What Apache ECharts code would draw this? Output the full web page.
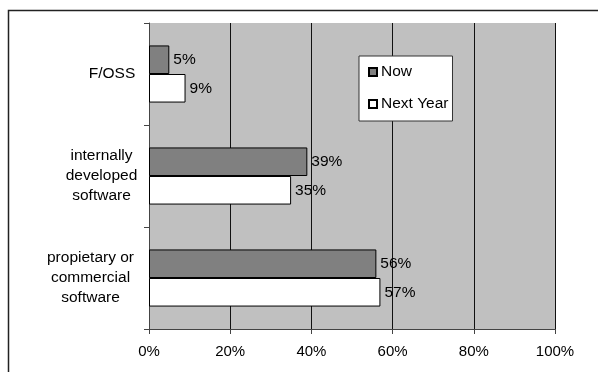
<!DOCTYPE html>
<html>
<head>
<meta charset="utf-8">
<style>
  html, body { margin: 0; padding: 0; background: #fff; }
  #chart { width: 598px; height: 372px; }
</style>
<script src="https://cdn.jsdelivr.net/npm/echarts@6/dist/echarts.min.js"></script>
</head>
<body>
<div id="chart"></div>
<script>
// Software types, listed top to bottom
const categories = ['F/OSS', 'internally developed software', 'propietary or commercial software'];
// Multi-line label text for each category and the rich style key it uses
const categoryLines = [['F/OSS'], ['internally', 'developed', 'software'], ['propietary or', 'commercial', 'software']];
const categoryStyles = ['f', 'i', 'p'];
// Share of respondents (%)
const nowValues = [5, 39, 56];
const nextYearValues = [9, 35, 57];
const seriesNames = ['Now', 'Next Year'];
const xTicks = [0, 20, 40, 60, 80, 100];

const font = '"Liberation Sans", Arial, sans-serif';

const chart = echarts.init(document.getElementById('chart'), null, { renderer: 'canvas' });

function line(width) {
  return { width: width, align: 'center', fontSize: 15.5, lineHeight: 20, color: '#000', fontFamily: font };
}

chart.setOption({
  animation: false,
  backgroundColor: '#fff',
  graphic: [{
    type: 'rect',
    shape: { x: 8.5, y: 10.5, width: 620, height: 420 },
    style: { fill: 'none', stroke: '#222', lineWidth: 1.5 },
    silent: true
  }],
  grid: {
    left: 149, top: 23, width: 406, height: 306,
    show: true, backgroundColor: '#c0c0c0', borderWidth: 0
  },
  legend: {
    orient: 'vertical',
    left: 359, top: 56,
    padding: [8, 4, 9, 9],
    backgroundColor: '#fff',
    borderColor: '#333', borderWidth: 1,
    itemWidth: 8, itemHeight: 8, itemGap: 16,
    icon: 'rect',
    textStyle: { fontSize: 15.5, fontFamily: font, color: '#000', padding: [0, 0, 0, -1] },
    data: seriesNames
  },
  xAxis: {
    type: 'value',
    min: 0, max: 100, interval: 20,
    axisLine: { show: true, lineStyle: { color: '#444', width: 1 } },
    axisTick: { show: true, length: 5, lineStyle: { color: '#444' } },
    splitLine: { show: true, lineStyle: { color: '#111', width: 1 } },
    axisLabel: {
      margin: 15, fontSize: 15, fontFamily: font, color: '#000',
      formatter: function (v) { return xTicks.indexOf(v) >= 0 ? v + '%' : ''; }
    }
  },
  yAxis: {
    type: 'category',
    inverse: true,
    data: categories,
    axisLine: { show: true, lineStyle: { color: '#444', width: 1 } },
    axisTick: { show: true, length: 5, lineStyle: { color: '#444' } },
    axisLabel: {
      margin: 13,
      align: 'right',
      formatter: function (v, i) {
        const k = categoryStyles[i];
        return categoryLines[i].map(function (t) { return '{' + k + '|' + t + '}'; }).join('\n');
      },
      rich: { f: line(48), i: line(69), p: line(91) }
    }
  },
  series: [
    {
      name: seriesNames[0], type: 'bar', data: nowValues,
      barCategoryGap: '44%', barGap: '0%',
      itemStyle: { color: '#808080', borderColor: '#000', borderWidth: 1 },
      label: { show: true, position: 'right', distance: 4, formatter: '{c}%', fontSize: 15.5, fontFamily: font, color: '#000' }
    },
    {
      name: seriesNames[1], type: 'bar', data: nextYearValues,
      barCategoryGap: '44%', barGap: '0%',
      itemStyle: { color: '#ffffff', borderColor: '#000', borderWidth: 1 },
      label: { show: true, position: 'right', distance: 4, formatter: '{c}%', fontSize: 15.5, fontFamily: font, color: '#000' }
    }
  ]
});
</script>
</body>
</html>
